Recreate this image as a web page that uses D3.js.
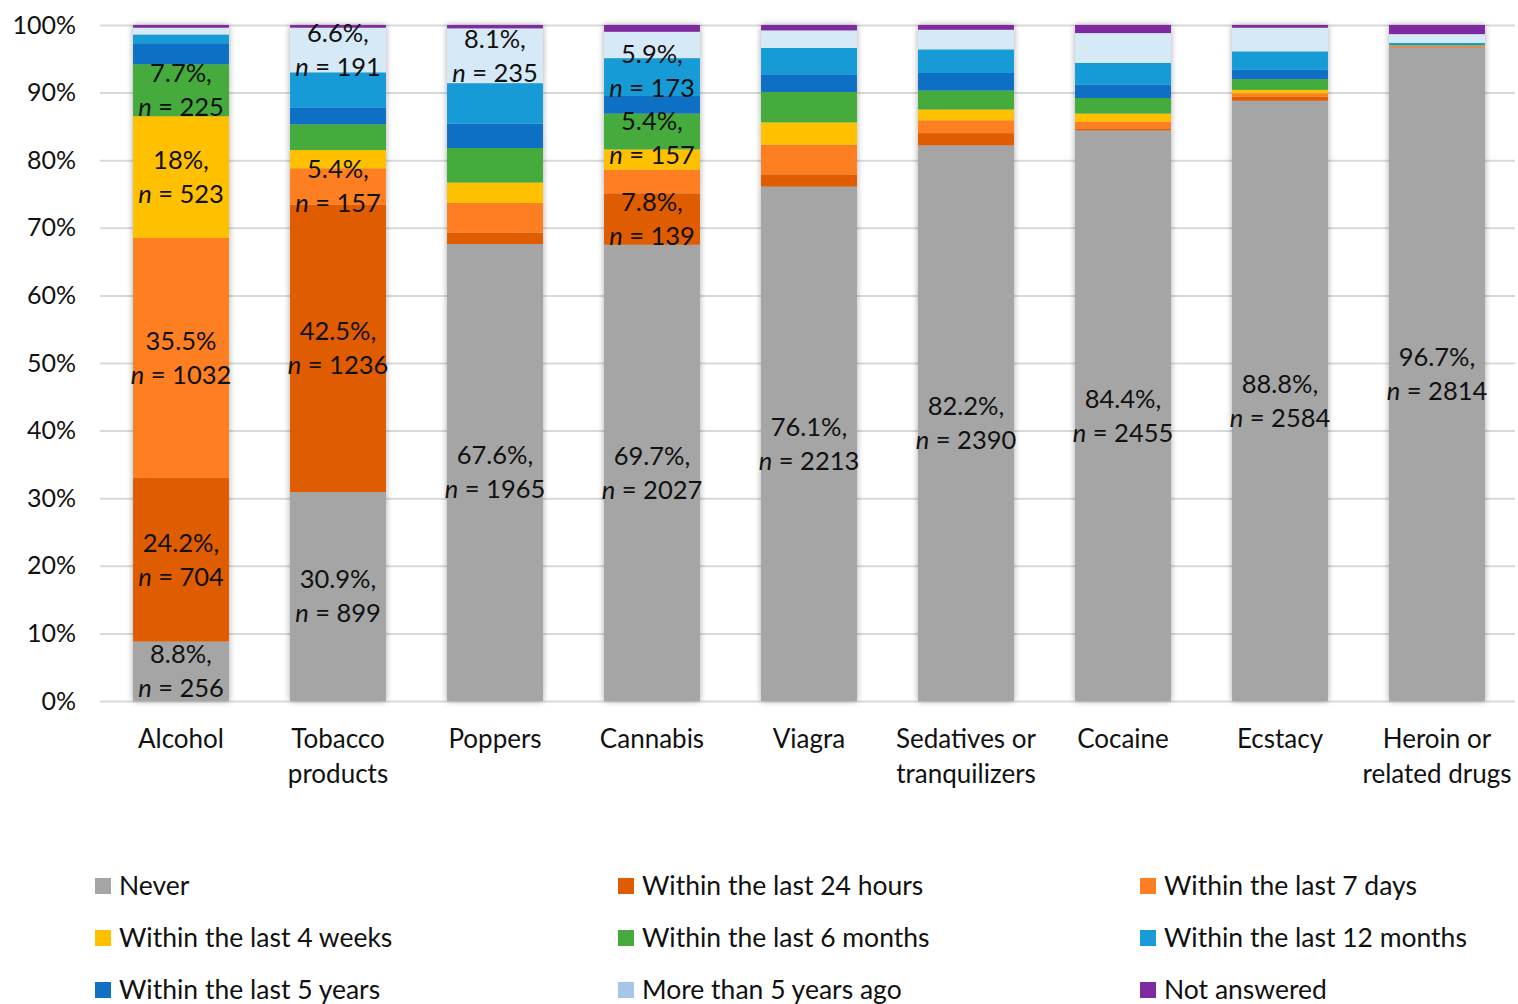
<!DOCTYPE html>
<html>
<head>
<meta charset="utf-8">
<script src="https://cdn.jsdelivr.net/npm/d3@7"></script>
<style>
  html, body { margin: 0; padding: 0; background: #fff; }
  svg { display: block; font-family: Lato, "Open Sans", sans-serif; }
</style>
</head>
<body>
<svg id="chart" width="1518" height="1004"></svg>
<script>
// ---------- data ----------
const categories = ["Alcohol", "Tobacco products", "Poppers", "Cannabis", "Viagra",
  "Sedatives or tranquilizers", "Cocaine", "Ecstacy", "Heroin or related drugs"];
const categoryLines = [["Alcohol"], ["Tobacco", "products"], ["Poppers"], ["Cannabis"], ["Viagra"],
  ["Sedatives or", "tranquilizers"], ["Cocaine"], ["Ecstacy"], ["Heroin or", "related drugs"]];

// series in legend order
const seriesNames = ["Never", "Within the last 24 hours", "Within the last 7 days",
  "Within the last 4 weeks", "Within the last 6 months", "Within the last 12 months",
  "Within the last 5 years", "More than 5 years ago", "Not answered"];

// percentage values per category (same order as categories)
const never       = [8.8, 30.9, 67.6, 67.5, 76.1, 82.2, 84.4, 88.8, 96.7];
const last24h     = [24.2, 42.5, 1.7, 7.6, 1.8, 1.8, 0.3, 0.6, 0.1];
const last7d      = [35.5, 5.4, 4.4, 3.5, 4.4, 1.9, 1.0, 0.5, 0.1];
const last4w      = [18.0, 2.7, 3.0, 3.0, 3.3, 1.6, 1.2, 0.5, 0.05];
const last6m      = [7.7, 3.8, 5.1, 5.3, 4.5, 2.8, 2.3, 1.6, 0.1];
const last12m     = [1.3, 5.2, 6.0, 5.6, 3.9, 3.5, 3.2, 2.7, 0.2];
const last5y      = [3.1, 2.5, 3.6, 2.6, 2.6, 2.6, 2.0, 1.4, 0.1];
const moreThan5y  = [1.0, 6.6, 8.1, 3.9, 2.6, 2.9, 4.4, 3.5, 1.3];
const notAnswered = [0.4, 0.4, 0.5, 1.0, 0.8, 0.7, 1.2, 0.4, 1.35];

const seriesValues = [never, last24h, last7d, last4w, last6m, last12m, last5y, moreThan5y, notAnswered];
// stacking order (bottom to top) as drawn in the figure
const stackOrder = ["Never", "Within the last 24 hours", "Within the last 7 days",
  "Within the last 4 weeks", "Within the last 6 months", "Within the last 5 years",
  "Within the last 12 months", "More than 5 years ago", "Not answered"];

// data labels
const labelCategory = ["Alcohol", "Alcohol", "Alcohol", "Alcohol", "Alcohol",
  "Tobacco products", "Tobacco products", "Tobacco products", "Tobacco products",
  "Poppers", "Poppers",
  "Cannabis", "Cannabis", "Cannabis", "Cannabis",
  "Viagra", "Sedatives or tranquilizers", "Cocaine", "Ecstacy", "Heroin or related drugs"];
const labelSeries = ["Never", "Within the last 24 hours", "Within the last 7 days", "Within the last 4 weeks", "Within the last 6 months",
  "Never", "Within the last 24 hours", "Within the last 7 days", "More than 5 years ago",
  "Never", "More than 5 years ago",
  "Never", "Within the last 24 hours", "Within the last 6 months", "Within the last 12 months",
  "Never", "Never", "Never", "Never", "Never"];
const labelPct = ["8.8%,", "24.2%,", "35.5%", "18%,", "7.7%,",
  "30.9%,", "42.5%,", "5.4%,", "6.6%,",
  "67.6%,", "8.1%,",
  "69.7%,", "7.8%,", "5.4%,", "5.9%,",
  "76.1%,", "82.2%,", "84.4%,", "88.8%,", "96.7%,"];
const labelN = ["256", "704", "1032", "523", "225",
  "899", "1236", "157", "191",
  "1965", "235",
  "2027", "139", "157", "173",
  "2213", "2390", "2455", "2584", "2814"];

const yTicks = [0, 10, 20, 30, 40, 50, 60, 70, 80, 90, 100];

// ---------- styles ----------
const barColors = {
  "Never": "#a5a5a5",
  "Within the last 24 hours": "#e05b02",
  "Within the last 7 days": "#fd7f22",
  "Within the last 4 weeks": "#ffc000",
  "Within the last 6 months": "#44ab3c",
  "Within the last 12 months": "#189bd7",
  "Within the last 5 years": "#1170c4",
  "More than 5 years ago": "#d6e9f6",
  "Not answered": "#7f2ba0"
};
const legendColors = Object.assign({}, barColors, { "More than 5 years ago": "#a9c4e8" });
// manual nudges (px) for crowded labels, keyed "category|series"
const labelNudge = { "Cannabis|Within the last 12 months": -6, "Cannabis|Within the last 6 months": 7 };

// ---------- chart ----------
const svg = d3.select("#chart");
const W = 1518, H = 1004;
const margin = { left: 102.5, right: 2.5, top: 25, bottom: 303 };

const x = d3.scaleBand().domain(categories)
  .range([margin.left, W - margin.right])
  .paddingInner(0.389).paddingOuter(0.1945);
const y = d3.scaleLinear().domain([0, 100]).range([H - margin.bottom, margin.top]);

const defs = svg.append("defs");
const f = defs.append("filter").attr("id", "shadow")
  .attr("x", "-20%").attr("y", "-5%").attr("width", "140%").attr("height", "110%");
f.append("feDropShadow").attr("dx", 0).attr("dy", 0).attr("stdDeviation", 3)
  .attr("flood-color", "#000").attr("flood-opacity", 0.35);

// gridlines + y axis
const yAxis = d3.axisLeft(y).tickValues(yTicks).tickFormat(d => d + "%")
  .tickSize(-(W - 3 - 100)).tickPadding(24);
const gy = svg.append("g").attr("transform", `translate(100,0)`).call(yAxis);
gy.select(".domain").remove();
gy.selectAll(".tick line").attr("stroke", "#d9d9d9").attr("stroke-width", 2);
gy.selectAll(".tick text").attr("font-size", 25).attr("fill", "#111")
  .attr("font-family", "Lato, 'Open Sans', sans-serif");

// stacked data
const table = categories.map((c, i) => {
  const row = { category: c };
  seriesNames.forEach((s, j) => row[s] = seriesValues[j][i]);
  return row;
});
const stacked = d3.stack().keys(stackOrder)(table);

const barsG = svg.append("g");
const catG = barsG.selectAll("g.cat").data(categories).join("g")
  .attr("class", "cat").attr("filter", "url(#shadow)");
catG.each(function (c, i) {
  const g = d3.select(this);
  stacked.forEach(layer => {
    const d = layer[i];
    g.append("rect")
      .attr("x", x(c))
      .attr("width", x.bandwidth())
      .attr("y", y(d[1]))
      .attr("height", Math.max(0, y(d[0]) - y(d[1])))
      .attr("fill", barColors[layer.key]);
  });
});

// data labels
const labelsG = svg.append("g").attr("font-size", 25.5).attr("fill", "#111").attr("text-anchor", "middle");
labelCategory.forEach((c, k) => {
  const ci = categories.indexOf(c);
  const layer = stacked.find(l => l.key === labelSeries[k]);
  const seg = layer[ci];
  const cy = (y(seg[0]) + y(seg[1])) / 2 + (labelNudge[c + "|" + labelSeries[k]] || 0);
  const cx = x(c) + x.bandwidth() / 2;
  labelsG.append("text").attr("x", cx).attr("y", cy - 17).attr("dy", "0.35em").text(labelPct[k]);
  const t2 = labelsG.append("text").attr("x", cx).attr("y", cy + 17).attr("dy", "0.35em");
  t2.append("tspan").attr("font-style", "italic").text("n");
  t2.append("tspan").text(" = " + labelN[k]);
});

// category labels
const catLabelG = svg.append("g").attr("font-size", 26).attr("fill", "#111").attr("text-anchor", "middle");
categories.forEach((c, i) => {
  const t = catLabelG.append("text").attr("x", x(c) + x.bandwidth() / 2).attr("y", 739);
  categoryLines[i].forEach((line, li) => {
    t.append("tspan").attr("x", x(c) + x.bandwidth() / 2).attr("dy", li === 0 ? "0.35em" : 35).text(line);
  });
});

// legend
const legendCols = [95, 618, 1140];
const legendRows = [886, 938, 990];
const legendG = svg.append("g").attr("font-size", 26.5).attr("fill", "#111");
seriesNames.forEach((s, i) => {
  const lx = legendCols[i % 3], ly = legendRows[Math.floor(i / 3)];
  legendG.append("rect").attr("x", lx).attr("y", ly - 8).attr("width", 16).attr("height", 16)
    .attr("fill", legendColors[s]);
  legendG.append("text").attr("x", lx + 24).attr("y", ly).attr("dy", "0.35em").text(s);
});
</script>
</body>
</html>
